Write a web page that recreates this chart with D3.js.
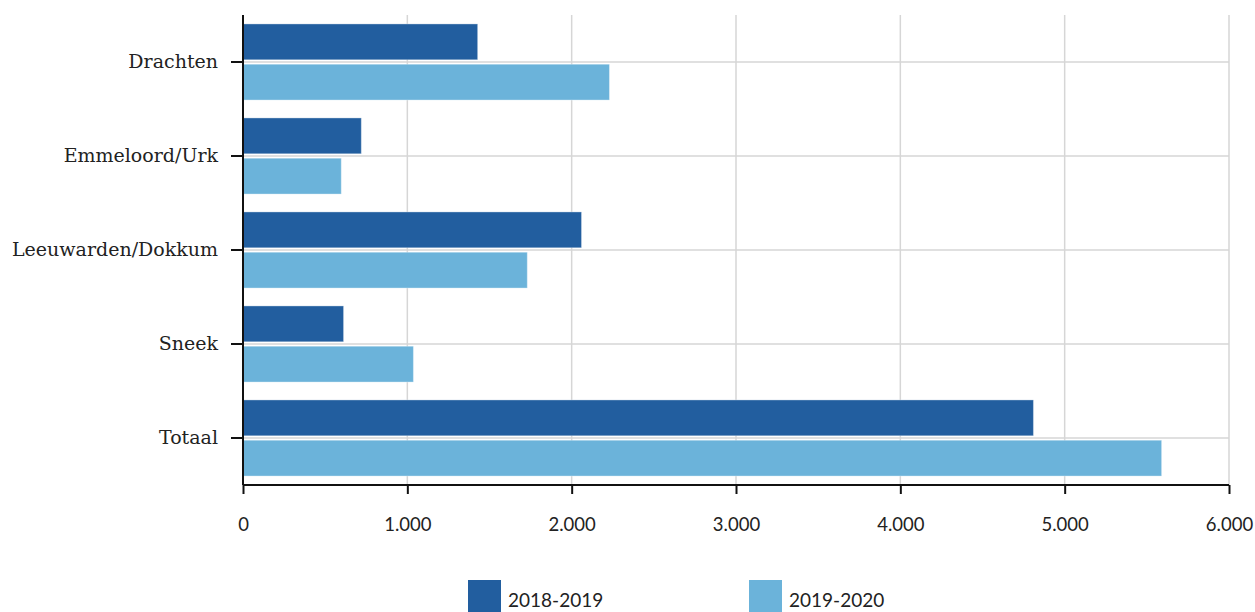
<!DOCTYPE html>
<html><head><meta charset="utf-8">
<script src="https://cdn.jsdelivr.net/npm/d3@7"></script>
<style>
body{margin:0;background:#fff;}
svg{display:block;}
</style></head>
<body><svg id="c" width="1255" height="612"></svg>
<script>
const categories = ["Drachten","Emmeloord/Urk","Leeuwarden/Dokkum","Sneek","Totaal"];
const seriesNames = ["2018-2019","2019-2020"];
const values2018 = [1428, 720, 2060, 612, 4810];
const values2019 = [2230, 598, 1730, 1037, 5590];
const xTicks = [0,1000,2000,3000,4000,5000,6000];
const colors = ["#225e9f","#6bb3da"];

(function(){
const svg = d3.select("#c");
const mL = 243, mR = 1229, mT = 15, mB = 485;
const x = d3.scaleLinear().domain([0,6000]).range([mL,mR]);
const y = d3.scaleBand().domain(categories).range([mT,mB]).paddingInner(0.19).paddingOuter(0.095);
const sub = d3.scaleBand().domain(seriesNames).range([0,y.bandwidth()]).paddingInner(0.11);
const fmt = d => d3.format(",")(d).replace(/,/g,".");

// gridlines
svg.append("g").selectAll("line").data(xTicks.filter(d=>d>0)).join("line")
  .attr("x1",d=>x(d)).attr("x2",d=>x(d)).attr("y1",mT).attr("y2",mB)
  .attr("stroke","#d6d6d6").attr("stroke-width",1.5);
svg.append("g").selectAll("line").data(categories).join("line")
  .attr("x1",mL).attr("x2",mR)
  .attr("y1",d=>y(d)+y.bandwidth()/2).attr("y2",d=>y(d)+y.bandwidth()/2)
  .attr("stroke","#d6d6d6").attr("stroke-width",1.5);

// bars
const data = categories.map((c,i)=>({c, v:[values2018[i], values2019[i]]}));
const g = svg.append("g").selectAll("g").data(data).join("g")
  .attr("transform",d=>`translate(0,${y(d.c)})`);
g.selectAll("rect").data(d=>d.v.map((v,j)=>({v,s:seriesNames[j],j}))).join("rect")
  .attr("x",x(0)).attr("y",d=>sub(d.s)).attr("height",sub.bandwidth())
  .attr("width",d=>x(d.v)-x(0)).attr("fill",d=>colors[d.j])
  .attr("stroke","rgba(255,255,255,0.35)").attr("stroke-width",1);

// axes
const xAxis = d3.axisBottom(x).tickValues(xTicks).tickFormat(fmt).tickSize(9).tickPadding(24);
const ga = svg.append("g").attr("transform",`translate(0,${mB})`).call(xAxis);
ga.select(".domain").attr("stroke","#111").attr("stroke-width",2).attr("d",`M${mL},0H${mR}`);
ga.selectAll(".tick line").attr("stroke","#111").attr("stroke-width",2);
ga.selectAll(".tick text").attr("font-family","Lato, 'Open Sans', sans-serif").attr("font-size",18.5).attr("fill","#222");

const yAxis = d3.axisLeft(y).tickSize(12).tickPadding(13);
const gy = svg.append("g").attr("transform",`translate(${mL},0)`).call(yAxis);
gy.select(".domain").attr("stroke","#111").attr("stroke-width",2).attr("d",`M0,${mT}V${mB}`);
gy.selectAll(".tick line").attr("stroke","#111").attr("stroke-width",2);
gy.selectAll(".tick text").attr("font-family","'DejaVu Serif', serif").attr("font-size",19).attr("fill","#222");

// legend
const legX = [468, 749];
const lg = svg.append("g").selectAll("g").data(seriesNames).join("g")
  .attr("transform",(d,i)=>`translate(${legX[i]},580)`);
lg.append("rect").attr("width",33).attr("height",32).attr("fill",(d,i)=>colors[i]);
lg.append("text").attr("x",40).attr("y",27).text(d=>d)
  .attr("font-family","Lato, 'Open Sans', sans-serif").attr("font-size",19).attr("fill","#222");
})();
</script></body></html>
